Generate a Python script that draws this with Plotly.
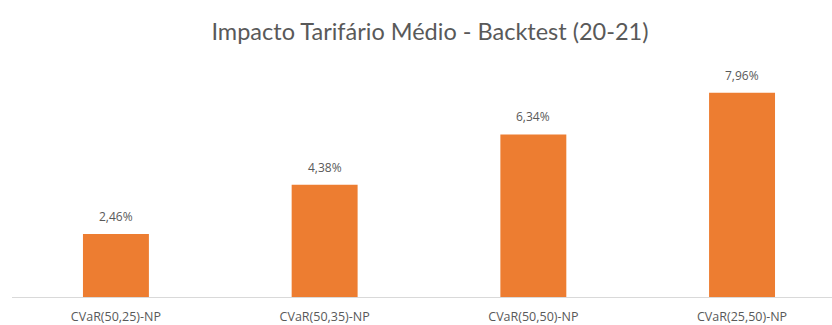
import plotly.graph_objects as go

categories = ["CVaR(50,25)-NP", "CVaR(50,35)-NP", "CVaR(50,50)-NP", "CVaR(25,50)-NP"]
values = [2.46, 4.38, 6.34, 7.96]
labels = [f"{v:.2f}%".replace(".", ",") for v in values]

fig = go.Figure(go.Bar(
    x=categories, y=values,
    marker=dict(color="#ED7D31", line=dict(width=0)),
    width=0.316,
    hoverinfo="skip",
))

for c, v, t in zip(categories, values, labels):
    fig.add_annotation(x=c, y=v, text=t, showarrow=False, yanchor="bottom", yshift=7,
                       font=dict(family="Open Sans", size=12, color="#595959"))

fig.update_layout(
    width=832, height=325,
    margin=dict(l=12, r=0, t=60, b=28),
    paper_bgcolor="white", plot_bgcolor="white",
    showlegend=False,
    title=dict(text="Impacto Tarifário Médio - Backtest (20-21)",
               x=430/832, xanchor="center", xref="container",
               y=1 - 32/325, yanchor="middle", yref="container",
               font=dict(family="Lato", size=23.5, color="#595959")),
    xaxis=dict(range=[-0.498, 3.431], showline=True, linecolor="#D9D9D9", linewidth=1,
               ticks="", showgrid=False, ticklabelstandoff=8,
               tickfont=dict(family="Open Sans", size=12.5, color="#595959")),
    yaxis=dict(range=[0, 9.24], visible=False, showgrid=False, zeroline=False),
)

fig.write_html("out.html")
